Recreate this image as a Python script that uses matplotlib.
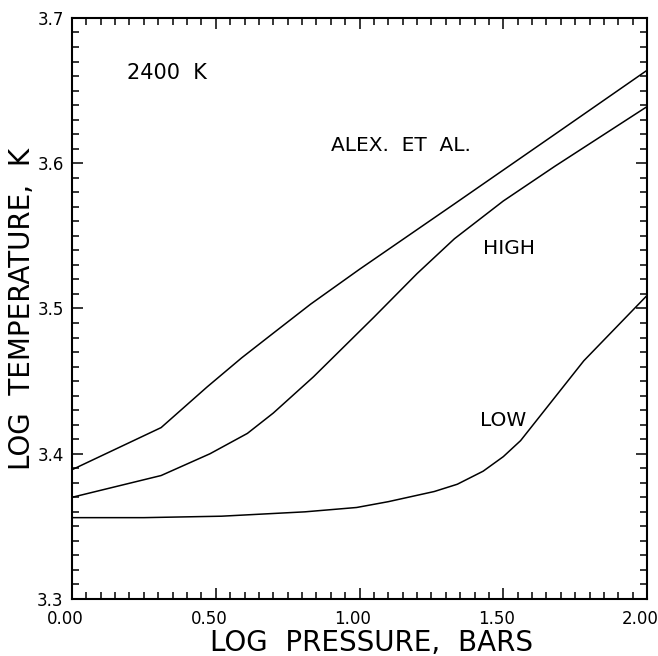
import matplotlib
matplotlib.use("Agg")
import matplotlib.pyplot as plt
from matplotlib.ticker import MultipleLocator, FormatStrFormatter
from matplotlib.transforms import ScaledTranslation

plt.rcParams["font.family"] = ["DejaVu Sans"]

# log pressure (bars) vs log temperature (K) for the 2400 K models
alex_p = [0.0, 0.31, 0.47, 0.59, 0.70, 0.83, 1.0, 1.33, 1.68, 2.0]
alex_t = [3.389, 3.418, 3.446, 3.466, 3.483, 3.503, 3.527, 3.572, 3.620, 3.664]

high_p = [0.0, 0.31, 0.48, 0.61, 0.70, 0.84, 1.05, 1.2, 1.33, 1.5, 1.68, 2.0]
high_t = [3.370, 3.385, 3.400, 3.414, 3.428, 3.453, 3.494, 3.524, 3.548, 3.574, 3.598, 3.639]

low_p = [0.0, 0.25, 0.52, 0.81, 0.99, 1.1, 1.26, 1.34, 1.43, 1.5, 1.56, 1.78, 2.0]
low_t = [3.356, 3.356, 3.357, 3.360, 3.363, 3.367, 3.374, 3.379, 3.388, 3.398, 3.409, 3.464, 3.509]

fig = plt.figure(figsize=(6.58, 6.56), dpi=100)
ax = fig.add_axes([0.1094, 0.0869, 0.874, 0.8857])

for p, t in [(alex_p, alex_t), (high_p, high_t), (low_p, low_t)]:
    ax.plot(p, t, color="black", linewidth=1.1)

ax.set_xlim(0, 2)
ax.set_ylim(3.3, 3.7)

ax.xaxis.set_major_locator(MultipleLocator(0.5))
ax.xaxis.set_minor_locator(MultipleLocator(0.05))
ax.yaxis.set_major_locator(MultipleLocator(0.1))
ax.yaxis.set_minor_locator(MultipleLocator(0.01))
ax.xaxis.set_major_formatter(FormatStrFormatter("%.2f"))
ax.yaxis.set_major_formatter(FormatStrFormatter("%.1f"))

ax.tick_params(which="both", direction="in", top=True, right=True, width=1.1,
               labelsize=12)
ax.tick_params(which="major", length=8)
ax.tick_params(which="minor", length=5)
ax.tick_params(axis="y", which="major", pad=6)
ax.tick_params(axis="x", which="major", pad=8)
for s in ax.spines.values():
    s.set_linewidth(1.5)

# nudge the x tick labels a little to the left so the last one fits
shift = ScaledTranslation(-5 / 72, 0, fig.dpi_scale_trans)
for lbl in ax.get_xticklabels():
    lbl.set_transform(lbl.get_transform() + shift)

ax.set_xlabel("LOG  PRESSURE,  BARS", fontsize=20, labelpad=1)
ax.xaxis.label.set_x(0.52)
ax.set_ylabel("LOG  TEMPERATURE,  K", fontsize=20, labelpad=1)

ax.text(0.19, 3.662, "2400  K", fontsize=15, va="center")
ax.text(0.90, 3.612, "ALEX.  ET  AL.", fontsize=14.5, va="center")
ax.text(1.43, 3.541, "HIGH", fontsize=14.5, va="center")
ax.text(1.42, 3.423, "LOW", fontsize=14.5, va="center")

fig.savefig("out.png", dpi=100)
